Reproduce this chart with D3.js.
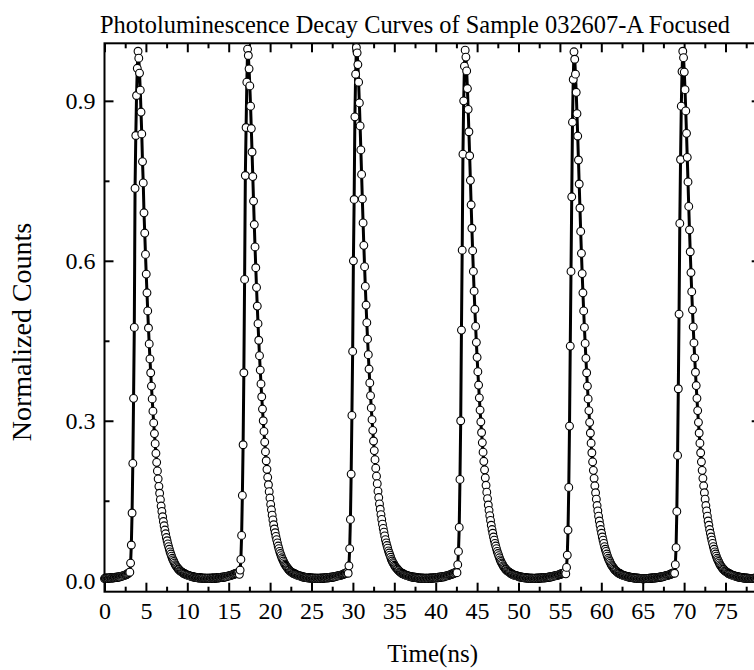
<!DOCTYPE html>
<html><head><meta charset="utf-8">
<script src="https://cdn.jsdelivr.net/npm/d3@7"></script>
<style>html,body{margin:0;padding:0;background:#fff;overflow:hidden}</style>
</head><body><svg id="c" width="754" height="670"></svg>
<script>
// ---- data (normalized counts, one channel every dt ns) ----
const dt = 0.09;
const titleText = "Photoluminescence Decay Curves of Sample 032607-A Focused";
const xLabelText = "Time(ns)";
const yLabelText = "Normalized Counts";
const xTickValues = [0,5,10,15,20,25,30,35,40,45,50,55,60,65,70,75];
const xMinorValues = [2.5,7.5,12.5,17.5,22.5,27.5,32.5,37.5,42.5,47.5,52.5,57.5,62.5,67.5,72.5,77.5];
const yTickValues = [0,0.3,0.6,0.9];
const yTickLabels = ["0.0","0.3","0.6","0.9"];
const yMinorValues = [0.15,0.45,0.75];

const lead = [0.004,0.005,0.004,0.005,0.005,0.004,0.005,0.005,0.006,0.005,
0.005,0.006,0.005,0.006,0.006,0.006,0.007,0.006,0.007,0.007,
0.007,0.008,0.008,0.008,0.009,0.009,0.010,0.010,0.011,0.011,
0.012,0.013,0.014,0.015];

const pulse1 = [0.016,0.033,0.067,0.127,0.220,0.342,0.475,0.736,0.835,0.910,0.961,
0.993,
0.980,0.952,0.920,0.879,0.838,0.786,0.746,0.690,0.652,0.612,
0.575,0.540,0.506,0.474,0.444,0.416,0.390,0.365,0.341,0.318,
0.296,0.276,0.257,0.239,0.222,0.206,0.191,0.177,0.164,0.152,
0.140,0.130,0.120,0.111,0.103,0.095,0.088,0.081,0.075,0.069,
0.064,0.059,0.054,0.050,0.046,0.042,0.039,0.036,0.033,0.030,
0.028,0.026,0.024,0.022,0.021,0.019,0.018,0.017,0.016,0.015,
0.014,0.013,0.013,0.012,0.011,0.011,0.010,0.010,0.009,0.009,
0.008,0.008,0.008,0.007,0.007,0.007,0.006,0.006,0.006,0.006,
0.005,0.005,0.006,0.005,0.005,0.005,0.004,0.005,0.004,0.004,
0.005,0.004,0.004,0.004,0.005,0.004,0.004,0.005,0.004,0.005,
0.005,0.005,0.004,0.005,0.005,0.006,0.005,0.005,0.006,0.006,
0.006,0.006,0.007,0.006,0.007,0.007,0.007,0.008,0.008,0.008,
0.009,0.009,0.009,0.010,0.010,0.011,0.011,0.012,0.012,0.013,
0.013,0.014,0.014,0.015,0.015];

const pulse2 = [0.012,0.020,0.040,0.085,0.160,0.255,0.390,0.565,0.760,0.850,0.935,
0.997,
0.985,0.960,0.928,0.890,0.848,0.804,0.758,0.712,0.668,0.626,
0.587,0.550,0.515,0.482,0.451,0.422,0.395,0.369,0.345,0.322,
0.300,0.280,0.260,0.242,0.225,0.209,0.194,0.180,0.167,0.155,
0.143,0.133,0.123,0.114,0.105,0.097,0.090,0.083,0.077,0.071,
0.065,0.060,0.055,0.051,0.047,0.043,0.040,0.037,0.034,0.031,
0.029,0.027,0.025,0.023,0.021,0.020,0.018,0.017,0.016,0.015,
0.014,0.014,0.013,0.012,0.012,0.011,0.010,0.010,0.009,0.009,
0.009,0.008,0.008,0.007,0.007,0.007,0.006,0.006,0.006,0.006,
0.005,0.006,0.005,0.005,0.005,0.005,0.005,0.004,0.005,0.004,
0.004,0.005,0.004,0.004,0.004,0.005,0.004,0.004,0.005,0.005,
0.004,0.005,0.005,0.005,0.006,0.005,0.006,0.005,0.006,0.006,
0.006,0.007,0.006,0.007,0.007,0.007,0.008,0.008,0.008,0.009,
0.009,0.009,0.010,0.010,0.010,0.011,0.011,0.012,0.012,0.013,
0.014,0.014,0.015,0.016];

const pulse3 = [0.014,0.028,0.060,0.115,0.200,0.310,0.430,0.600,0.715,0.870,0.950,
1.000,
0.990,0.968,0.935,0.896,0.853,0.808,0.762,0.716,0.671,0.629,
0.589,0.552,0.517,0.484,0.453,0.424,0.397,0.371,0.347,0.324,
0.302,0.282,0.262,0.244,0.227,0.211,0.196,0.182,0.168,0.156,
0.144,0.134,0.124,0.115,0.106,0.098,0.091,0.084,0.077,0.071,
0.066,0.061,0.056,0.052,0.048,0.044,0.040,0.037,0.034,0.032,
0.029,0.027,0.025,0.023,0.022,0.020,0.019,0.017,0.016,0.015,
0.014,0.013,0.013,0.012,0.011,0.011,0.010,0.010,0.009,0.009,
0.008,0.008,0.008,0.007,0.007,0.007,0.006,0.007,0.006,0.006,
0.006,0.005,0.005,0.005,0.005,0.005,0.004,0.005,0.004,0.005,
0.004,0.004,0.004,0.005,0.004,0.004,0.004,0.005,0.005,0.004,
0.005,0.005,0.005,0.005,0.005,0.006,0.006,0.005,0.006,0.006,
0.007,0.006,0.007,0.007,0.007,0.008,0.007,0.008,0.008,0.009,
0.009,0.009,0.010,0.010,0.011,0.011,0.012,0.012,0.013,0.013,
0.014,0.015,0.015,0.016];

const pulse4 = [0.015,0.030,0.055,0.100,0.190,0.300,0.470,0.620,0.800,0.900,0.965,
0.995,
0.982,0.956,0.923,0.884,0.842,0.797,0.751,0.705,0.661,0.619,
0.580,0.543,0.509,0.477,0.447,0.419,0.392,0.367,0.343,0.320,
0.298,0.278,0.259,0.241,0.224,0.208,0.193,0.179,0.166,0.154,
0.142,0.132,0.122,0.113,0.104,0.096,0.089,0.082,0.076,0.070,
0.065,0.060,0.055,0.051,0.047,0.043,0.039,0.036,0.033,0.031,
0.028,0.026,0.024,0.022,0.021,0.019,0.018,0.017,0.016,0.015,
0.014,0.013,0.012,0.012,0.011,0.010,0.010,0.010,0.009,0.009,
0.008,0.008,0.007,0.007,0.007,0.007,0.006,0.006,0.006,0.005,
0.006,0.005,0.005,0.005,0.005,0.004,0.005,0.004,0.004,0.005,
0.004,0.004,0.004,0.004,0.005,0.004,0.005,0.004,0.005,0.005,
0.005,0.005,0.005,0.006,0.005,0.006,0.005,0.006,0.006,0.006,
0.006,0.007,0.007,0.007,0.007,0.008,0.008,0.008,0.009,0.009,
0.009,0.010,0.010,0.010,0.011,0.011,0.012,0.012,0.013,0.013,
0.014,0.014,0.015,0.016];

const pulse5 = [0.013,0.025,0.048,0.095,0.175,0.290,0.440,0.580,0.720,0.860,0.940,
0.992,
0.978,0.950,0.916,0.876,0.834,0.789,0.744,0.699,0.655,0.614,
0.576,0.540,0.506,0.475,0.445,0.417,0.390,0.365,0.341,0.319,
0.297,0.277,0.258,0.240,0.223,0.207,0.192,0.178,0.165,0.153,
0.141,0.131,0.121,0.112,0.104,0.096,0.089,0.082,0.076,0.070,
0.064,0.059,0.055,0.050,0.046,0.042,0.039,0.036,0.033,0.030,
0.028,0.026,0.024,0.022,0.020,0.019,0.018,0.016,0.015,0.014,
0.014,0.013,0.012,0.011,0.011,0.010,0.010,0.009,0.009,0.008,
0.008,0.008,0.007,0.007,0.007,0.006,0.006,0.006,0.006,0.005,
0.005,0.005,0.005,0.005,0.004,0.005,0.004,0.004,0.004,0.004,
0.004,0.004,0.003,0.004,0.004,0.004,0.004,0.004,0.004,0.004,
0.004,0.005,0.004,0.005,0.005,0.005,0.005,0.005,0.006,0.005,
0.006,0.006,0.006,0.006,0.007,0.007,0.007,0.007,0.008,0.008,
0.008,0.009,0.009,0.010,0.010,0.010,0.011,0.011,0.012,0.012,
0.013,0.014,0.014,0.015];

const pulse6 = [0.014,0.030,0.062,0.130,0.235,0.360,0.500,0.670,0.790,0.890,0.955,
0.993,
0.981,0.954,0.921,0.881,0.839,0.794,0.748,0.702,0.658,0.617,
0.578,0.542,0.508,0.476,0.446,0.418,0.391,0.366,0.342,0.319,
0.297,0.277,0.258,0.240,0.223,0.207,0.192,0.178,0.165,0.153,
0.141,0.131,0.121,0.112,0.104,0.096,0.089,0.082,0.076,0.070,
0.064,0.059,0.054,0.050,0.046,0.042,0.039,0.036,0.033,0.030,
0.028,0.026,0.024,0.022,0.021,0.019,0.018,0.017,0.016,0.015,
0.014,0.013,0.013,0.012,0.011,0.011,0.010,0.010,0.009,0.009,
0.008,0.008,0.008,0.007,0.007,0.007,0.006,0.006,0.006,0.006,
0.005,0.005,0.005,0.005,0.005,0.004,0.005,0.004,0.004,0.004,
0.004,0.004,0.004,0.004,0.004,0.005,0.004,0.004,0.004,0.005,
0.004,0.005,0.005,0.005];

// ---- chart ----
const counts = [].concat(lead, pulse1, pulse2, pulse3, pulse4, pulse5, pulse6);
const data = counts.map((v, i) => ({t: i * dt, v: v}));

const FONT = "'Liberation Serif','Times New Roman',Times,serif";
const L = 104.5, R = 760.7, T = 43.3, B = 591.7;
const x = d3.scaleLinear().domain([0, 79.25]).range([L, R]);
const y = d3.scaleLinear().domain([-0.0206, 1.0079]).range([B, T]);

const svg = d3.select("#c");
svg.append("rect").attr("width", 754).attr("height", 670).attr("fill", "#fff");

function styleAxis(g) {
  g.select(".domain").remove();
  g.selectAll(".tick line").attr("stroke", "#000").attr("stroke-width", 2);
  g.selectAll(".tick text").attr("fill", "#000").attr("font-family", FONT).attr("font-size", 24);
}

// bottom
svg.append("g").attr("transform", `translate(0,${B})`)
  .call(d3.axisBottom(x).tickValues(xTickValues).tickFormat(d3.format("d")).tickSize(-9).tickPadding(10))
  .call(styleAxis);
svg.append("g").attr("transform", `translate(0,${B})`)
  .call(d3.axisBottom(x).tickValues(xMinorValues).tickFormat("").tickSize(-5))
  .call(styleAxis);
// top
svg.append("g").attr("transform", `translate(0,${T})`)
  .call(d3.axisTop(x).tickValues(xTickValues).tickFormat("").tickSize(-9))
  .call(styleAxis);
svg.append("g").attr("transform", `translate(0,${T})`)
  .call(d3.axisTop(x).tickValues(xMinorValues).tickFormat("").tickSize(-5))
  .call(styleAxis);
// left
svg.append("g").attr("transform", `translate(${L},0)`)
  .call(d3.axisLeft(y).tickValues(yTickValues).tickFormat((d, i) => yTickLabels[i]).tickSize(-9).tickPadding(9))
  .call(styleAxis);
svg.append("g").attr("transform", `translate(${L},0)`)
  .call(d3.axisLeft(y).tickValues(yMinorValues).tickFormat("").tickSize(-5))
  .call(styleAxis);
// right
svg.append("g").attr("transform", `translate(${R},0)`)
  .call(d3.axisRight(y).tickValues(yTickValues).tickFormat("").tickSize(-9))
  .call(styleAxis);
svg.append("g").attr("transform", `translate(${R},0)`)
  .call(d3.axisRight(y).tickValues(yMinorValues).tickFormat("").tickSize(-5))
  .call(styleAxis);

// frame
svg.append("rect").attr("x", L).attr("y", T).attr("width", R - L).attr("height", B - T)
  .attr("fill", "none").attr("stroke", "#000").attr("stroke-width", 2);

// line
svg.append("path").datum(data)
  .attr("d", d3.line().x(d => x(d.t)).y(d => y(d.v)))
  .attr("fill", "none").attr("stroke", "#000").attr("stroke-width", 3).attr("stroke-linejoin", "round");

// symbols
svg.append("g").selectAll("circle").data(data).join("circle")
  .attr("cx", d => x(d.t)).attr("cy", d => y(d.v)).attr("r", 3.9)
  .attr("fill", "#fff").attr("stroke", "#000").attr("stroke-width", 1.1);

// texts
svg.append("text").attr("x", 100).attr("y", 33).attr("font-family", FONT).attr("font-size", 24.4)
  .attr("fill", "#000").text(titleText);
svg.append("text").attr("x", (L + R) / 2).attr("y", 662).attr("text-anchor", "middle")
  .attr("font-family", FONT).attr("font-size", 25).attr("fill", "#000").text(xLabelText);
svg.append("text").attr("transform", "translate(31,332) rotate(-90)").attr("text-anchor", "middle")
  .attr("font-family", FONT).attr("font-size", 28).attr("fill", "#000").text(yLabelText);
</script></body></html>
